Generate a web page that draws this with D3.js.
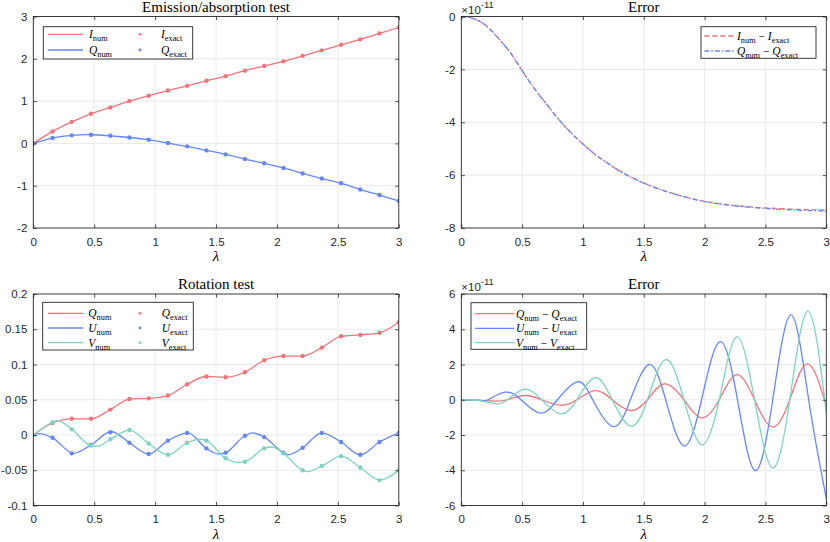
<!DOCTYPE html>
<html><head><meta charset="utf-8">
<script src="https://cdn.jsdelivr.net/npm/d3@7"></script>
<style>body{margin:0;background:#fff}svg{display:block}</style>
</head><body>
<svg id="c" width="830" height="542"></svg>
<script>
// ---------------- data ----------------
const lamExact = [0,0.158,0.316,0.474,0.632,0.789,0.947,1.105,1.263,1.421,1.579,1.737,1.895,2.053,2.211,2.368,2.526,2.684,2.842,3.0];
// Emission / absorption test
const emisI = [0,0.283,0.51,0.70,0.85,1.0,1.126,1.25,1.36,1.48,1.59,1.72,1.83,1.94,2.07,2.20,2.33,2.46,2.60,2.74];
const emisQ = [0,0.126,0.19,0.205,0.18,0.14,0.087,0.008,-0.07,-0.165,-0.26,-0.37,-0.47,-0.58,-0.71,-0.83,-0.94,-1.09,-1.22,-1.36];
// Error of emission test (x1e-11)
const errLam1 = [0,0.1,0.2,0.3,0.4,0.5,0.6,0.7,0.8,0.9,1.0,1.1,1.2,1.3,1.4,1.5,1.6,1.8,2.0,2.25,2.5,2.75,3.0];
const errI1 = [0,-0.08,-0.33,-0.8,-1.35,-2.05,-2.72,-3.31,-3.89,-4.39,-4.82,-5.22,-5.54,-5.84,-6.09,-6.3,-6.48,-6.78,-6.99,-7.15,-7.24,-7.29,-7.32];
const errQ1 = [0,-0.08,-0.33,-0.8,-1.35,-2.05,-2.72,-3.31,-3.89,-4.39,-4.82,-5.22,-5.54,-5.84,-6.09,-6.3,-6.48,-6.78,-7.0,-7.16,-7.26,-7.32,-7.36];
// Rotation test: exact samples
const rotQ = [0,0.017,0.023,0.023,0.036,0.051,0.052,0.056,0.072,0.083,0.082,0.089,0.106,0.112,0.112,0.124,0.140,0.142,0.145,0.160];
const rotU = [0,-0.004,-0.026,-0.014,0.004,-0.011,-0.027,-0.008,0.003,-0.019,-0.025,-0.001,-0.003,-0.025,-0.018,0.003,-0.010,-0.028,-0.010,0.003];
const rotV = [0,0.018,0.008,-0.015,-0.006,0.007,-0.012,-0.028,-0.011,-0.008,-0.033,-0.038,-0.019,-0.026,-0.050,-0.044,-0.030,-0.046,-0.064,-0.050];
// Rotation test: numerical curves (read incl. extrema)
const rotLamQnum = [0,0.158,0.316,0.474,0.632,0.789,0.947,1.105,1.263,1.421,1.579,1.737,1.895,2.053,2.211,2.368,2.526,2.684,2.842,3.0];
const rotQnum = [0,0.017,0.023,0.023,0.036,0.051,0.052,0.056,0.072,0.083,0.082,0.089,0.106,0.112,0.112,0.124,0.140,0.142,0.145,0.160];
const rotLamUnum = [0,0.05,0.158,0.33,0.474,0.64,0.789,0.947,1.105,1.27,1.421,1.52,1.579,1.737,1.80,1.895,2.053,2.09,2.211,2.368,2.526,2.684,2.842,3.0];
const rotUnum = [0,0.002,-0.004,-0.026,-0.014,0.005,-0.011,-0.027,-0.008,0.003,-0.019,-0.027,-0.025,-0.001,0.003,-0.003,-0.025,-0.028,-0.018,0.003,-0.010,-0.028,-0.010,0.003];
const rotLamVnum = [0,0.158,0.2,0.316,0.474,0.53,0.632,0.789,0.947,1.105,1.263,1.36,1.421,1.579,1.68,1.737,1.895,1.96,2.053,2.211,2.25,2.368,2.526,2.684,2.842,3.0];
const rotVnum = [0,0.018,0.0205,0.008,-0.015,-0.016,-0.006,0.007,-0.012,-0.028,-0.011,-0.006,-0.008,-0.033,-0.039,-0.038,-0.019,-0.017,-0.026,-0.050,-0.052,-0.044,-0.030,-0.046,-0.064,-0.050];
// Rotation error (x1e-11)
const errLamQ = [0,0.15,0.285,0.38,0.52,0.66,0.816,0.95,1.1,1.24,1.39,1.53,1.67,1.83,1.975,2.12,2.264,2.41,2.558,2.70,2.846,3.0];
const errQ2 = [0,-0.03,-0.08,0,0.24,0,-0.31,0,0.52,0,-0.61,0,0.9,0,-1.02,0,1.43,0,-1.55,0,2.04,-0.32];
const errLamU = [0,0.08,0.16,0.22,0.36,0.49,0.65,0.79,0.955,1.08,1.248,1.39,1.544,1.68,1.83,1.975,2.126,2.27,2.415,2.56,2.71,2.855,3.0];
const errU2 = [0,-0.03,-0.04,0,0.43,0,-0.76,0,1.02,0,-1.52,0,2.0,0,-2.62,0,3.3,0,-4.02,0,4.81,0,-5.6];
const errLamV = [0,0.15,0.285,0.38,0.52,0.66,0.816,0.95,1.1,1.24,1.393,1.53,1.68,1.83,1.975,2.12,2.264,2.41,2.558,2.70,2.85,3.0];
const errV2 = [0,-0.05,-0.23,0,0.6,0,-0.8,0,1.26,0,-1.5,0,2.28,0,-2.55,0,3.57,0,-3.87,0,5.02,-0.75];

// ticks
const xTicks = [0,0.5,1,1.5,2,2.5,3];
const xTickLabels = ["0","0.5","1","1.5","2","2.5","3"];
const yTicks1 = [-2,-1,0,1,2,3], yTickLabels1 = ["-2","-1","0","1","2","3"];
const yTicks2 = [-8,-6,-4,-2,0], yTickLabels2 = ["-8","-6","-4","-2","0"];
const yTicks3 = [-0.1,-0.05,0,0.05,0.1,0.15,0.2], yTickLabels3 = ["-0.1","-0.05","0","0.05","0.1","0.15","0.2"];
const yTicks4 = [-6,-4,-2,0,2,4,6], yTickLabels4 = ["-6","-4","-2","0","2","4","6"];

const RED = "#F0747A", BLUE = "#6488F4", TEAL = "#7DD4BF";
const AX = "#262626";
const SERIF = "'Liberation Serif','Times New Roman',serif";
const SANS = "'Liberation Sans',Arial,Helvetica,sans-serif";

const svg = d3.select("#c");

function panel(o){
  const g = svg.append("g");
  const xs = d3.scaleLinear().domain([0,3]).range([o.x0,o.x1]);
  const ys = d3.scaleLinear().domain(o.yDomain).range([o.y1,o.y0]);
  const id = "clip"+Math.round(o.x0)+"_"+Math.round(o.y0);
  svg.append("clipPath").attr("id",id).append("rect")
    .attr("x",o.x0).attr("y",o.y0-2).attr("width",o.x1-o.x0).attr("height",o.y1-o.y0+4);
  // grid
  const grid = g.append("g").attr("stroke","#e4e4e4").attr("stroke-width",0.8);
  xTicks.forEach(t=>{ if(t>0&&t<3) grid.append("line").attr("x1",xs(t)).attr("x2",xs(t)).attr("y1",o.y0).attr("y2",o.y1); });
  o.yTicks.forEach(t=>{ const yy=ys(t); if(Math.abs(yy-o.y0)>1&&Math.abs(yy-o.y1)>1) grid.append("line").attr("x1",o.x0).attr("x2",o.x1).attr("y1",yy).attr("y2",yy); });
  const data = g.append("g").attr("clip-path","url(#"+id+")");
  // axes via d3
  const tl = 3.6;
  const bottom = d3.axisBottom(xs).tickValues(xTicks).tickFormat((d,i)=>xTickLabels[i]).tickSizeInner(-tl).tickSizeOuter(0).tickPadding(9.5);
  const top = d3.axisTop(xs).tickValues(xTicks).tickFormat("").tickSizeInner(-tl).tickSizeOuter(0);
  const left = d3.axisLeft(ys).tickValues(o.yTicks).tickFormat((d,i)=>o.yLabels[i]).tickSizeInner(-tl).tickSizeOuter(0).tickPadding(6);
  const right = d3.axisRight(ys).tickValues(o.yTicks).tickFormat("").tickSizeInner(-tl).tickSizeOuter(0);
  const axG = svg.append("g").attr("class","axes");
  function style(sel){
    sel.selectAll("path").attr("stroke","none");
    sel.selectAll("line").attr("stroke",AX).attr("stroke-width",0.8);
    sel.selectAll("text").attr("fill",AX).attr("font-family",SANS).attr("font-size",11.5);
  }
  o._axes = ()=>{
    style(axG.append("g").attr("transform",`translate(0,${o.y1})`).call(bottom));
    style(axG.append("g").attr("transform",`translate(0,${o.y0})`).call(top));
    style(axG.append("g").attr("transform",`translate(${o.x0},0)`).call(left));
    style(axG.append("g").attr("transform",`translate(${o.x1},0)`).call(right));
    axG.append("rect").attr("x",o.x0).attr("y",o.y0).attr("width",o.x1-o.x0).attr("height",o.y1-o.y0)
      .attr("fill","none").attr("stroke",AX).attr("stroke-width",0.9);
    axG.append("text").attr("x",(o.x0+o.x1)/2).attr("y",o.y0-5).attr("text-anchor","middle")
      .attr("font-family",SERIF).attr("font-size",15).attr("fill","#000").text(o.title);
    axG.append("text").attr("x",(o.x0+o.x1)/2).attr("y",o.y1+33).attr("text-anchor","middle")
      .attr("font-family",SERIF).attr("font-style","italic").attr("font-size",15).attr("fill","#000").text("λ");
    if(o.expo){
      const t = axG.append("text").attr("x",o.x0).attr("y",o.y0-3).attr("font-family",SANS).attr("font-size",11.5).attr("fill",AX);
      t.append("tspan").text("×10");
      t.append("tspan").attr("dy",-6).attr("font-size",9.5).text("-11");
    }
  };
  return {g,data,xs,ys,o};
}

function line(p, xsArr, ysArr, color, curve, dash){
  const pts = xsArr.map((x,i)=>[x,ysArr[i]]);
  const gen = d3.line().x(d=>p.xs(d[0])).y(d=>p.ys(d[1])).curve(curve);
  p.data.append("path").attr("d",gen(pts)).attr("fill","none").attr("stroke",color)
    .attr("stroke-width",1.3).attr("stroke-dasharray",dash||null);
}
function dots(p, xsArr, ysArr, color){
  p.data.selectAll(null).data(xsArr.map((x,i)=>[x,ysArr[i]])).enter().append("circle")
    .attr("cx",d=>p.xs(d[0])).attr("cy",d=>p.ys(d[1])).attr("r",2.2).attr("fill",color);
}
function mathText(g, x, y, parts, size){
  const t = g.append("text").attr("x",x).attr("y",y).attr("font-family",SERIF).attr("font-size",size||11.5).attr("fill","#000");
  let sub=false;
  parts.forEach(p=>{
    const s = t.append("tspan").text(p.t);
    if(p.it) s.attr("font-style","italic");
    if(p.sub && !sub){ s.attr("dy",2.8); sub=true; }
    else if(!p.sub && sub){ s.attr("dy",-2.8); sub=false; }
    if(p.sub) s.attr("font-size",8.3);
  });
  return t;
}
function legendBox(x0,y0,x1,y1){
  const g = svg.append("g");
  g.append("rect").attr("x",x0).attr("y",y0).attr("width",x1-x0).attr("height",y1-y0)
    .attr("fill","#fff").attr("stroke",AX).attr("stroke-width",0.9);
  return g;
}
const num = s=>[{t:s,it:true},{t:"num",sub:true}];
const ex = s=>[{t:s,it:true},{t:"exact",sub:true}];
const diff = s=>[{t:s,it:true},{t:"num",sub:true},{t:" − "},{t:s,it:true},{t:"exact",sub:true}];

// ---------- panel 1 ----------
const p1 = panel({x0:33.3,x1:398.8,y0:16.5,y1:228,yDomain:[-2,3],yTicks:yTicks1,yLabels:yTickLabels1,title:"Emission/absorption test"});
line(p1, lamExact, emisI, RED, d3.curveNatural);
line(p1, lamExact, emisQ, BLUE, d3.curveNatural);
dots(p1, lamExact, emisI, RED);
dots(p1, lamExact, emisQ, BLUE);
p1.o._axes();
{
  const g = legendBox(43.3,26.7,192.7,59);
  const rows=[[34.3,RED,"I"],[50,BLUE,"Q"]];
  rows.forEach(([y,c,s])=>{
    g.append("line").attr("x1",47.7).attr("x2",83).attr("y1",y).attr("y2",y).attr("stroke",c).attr("stroke-width",1.3);
    mathText(g,89,y+4,num(s));
    g.append("circle").attr("cx",140).attr("cy",y).attr("r",1.4).attr("fill",c);
    mathText(g,161,y+4,ex(s));
  });
}

// ---------- panel 2 ----------
const p2 = panel({x0:461.3,x1:826.3,y0:16.5,y1:228,yDomain:[-8,0],yTicks:yTicks2,yLabels:yTickLabels2,title:"Error",expo:true});
line(p2, errLam1, errI1, RED, d3.curveMonotoneX, "5,3");
line(p2, errLam1, errQ1, BLUE, d3.curveMonotoneX, "5,2,1.5,2");
p2.o._axes();
{
  const g = legendBox(701,26.7,816,58.3);
  g.append("line").attr("x1",704.3).attr("x2",735).attr("y1",36).attr("y2",36).attr("stroke",RED).attr("stroke-width",1.3).attr("stroke-dasharray","5,3");
  mathText(g,737,40,diff("I"));
  g.append("line").attr("x1",704.3).attr("x2",735).attr("y1",51).attr("y2",51).attr("stroke",BLUE).attr("stroke-width",1.3).attr("stroke-dasharray","5,2,1.5,2");
  mathText(g,737,55,diff("Q"));
}

// ---------- panel 3 ----------
const p3 = panel({x0:33.3,x1:398.8,y0:294,y1:505.5,yDomain:[-0.1,0.2],yTicks:yTicks3,yLabels:yTickLabels3,title:"Rotation test"});
line(p3, rotLamQnum, rotQnum, RED, d3.curveMonotoneX);
line(p3, rotLamUnum, rotUnum, BLUE, d3.curveMonotoneX);
line(p3, rotLamVnum, rotVnum, TEAL, d3.curveMonotoneX);
dots(p3, lamExact, rotQ, RED);
dots(p3, lamExact, rotU, BLUE);
dots(p3, lamExact, rotV, TEAL);
p3.o._axes();
{
  const g = legendBox(42.7,302.3,193.3,350);
  [[313.3,RED,"Q"],[328,BLUE,"U"],[342.7,TEAL,"V"]].forEach(([y,c,s])=>{
    g.append("line").attr("x1",47.7).attr("x2",83.3).attr("y1",y).attr("y2",y).attr("stroke",c).attr("stroke-width",1.3);
    mathText(g,88.3,y+4,num(s));
    g.append("circle").attr("cx",140).attr("cy",y).attr("r",1.4).attr("fill",c);
    mathText(g,161.7,y+4,ex(s));
  });
}

// ---------- panel 4 ----------
const p4 = panel({x0:461.3,x1:826.3,y0:294,y1:505.5,yDomain:[-6,6],yTicks:yTicks4,yLabels:yTickLabels4,title:"Error",expo:true});
line(p4, errLamQ, errQ2, RED, d3.curveNatural);
line(p4, errLamU, errU2, BLUE, d3.curveNatural);
line(p4, errLamV, errV2, TEAL, d3.curveNatural);
p4.o._axes();
{
  const g = legendBox(471,302.7,586.7,349.3);
  [[313.7,RED,"Q"],[328.3,BLUE,"U"],[342.7,TEAL,"V"]].forEach(([y,c,s])=>{
    g.append("line").attr("x1",475).attr("x2",514.3).attr("y1",y).attr("y2",y).attr("stroke",c).attr("stroke-width",1.3);
    mathText(g,516,y+4,diff(s));
  });
}
</script>
</body></html>
